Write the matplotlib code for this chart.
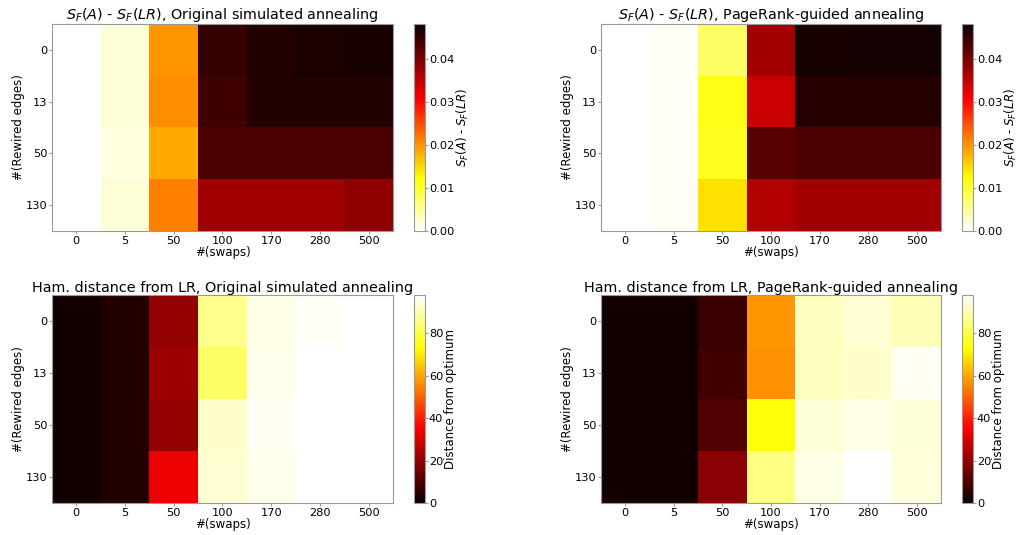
import numpy as np
import matplotlib.pyplot as plt

swaps = ['0', '5', '50', '100', '170', '280', '500']
rewired = ['0', '13', '50', '130']

# S_F(A) - S_F(LR)
sf_orig = [
    [0.0, 0.0020, 0.0197, 0.0449, 0.0463, 0.0467, 0.0470],
    [0.0, 0.0020, 0.0204, 0.0442, 0.0463, 0.0463, 0.0463],
    [0.0, 0.0015, 0.0183, 0.0432, 0.0432, 0.0432, 0.0432],
    [0.0, 0.0020, 0.0213, 0.0373, 0.0373, 0.0373, 0.0384],
]
sf_pr = [
    [0.0, 0.0005, 0.0074, 0.0373, 0.0469, 0.0471, 0.0471],
    [0.0, 0.0005, 0.0112, 0.0343, 0.0460, 0.0460, 0.0460],
    [0.0, 0.0005, 0.0108, 0.0425, 0.0432, 0.0432, 0.0432],
    [0.0, 0.0005, 0.0144, 0.0360, 0.0370, 0.0370, 0.0370],
]

# Hamming distance from LR
ham_orig = [
    [1.4, 3.5, 20.0, 86.8, 95.5, 97.0, 98.0],
    [1.4, 3.5, 21.5, 83.0, 96.0, 98.0, 98.0],
    [1.4, 3.5, 20.0, 92.7, 96.5, 98.0, 98.0],
    [1.4, 3.5, 33.0, 93.5, 96.0, 98.0, 98.0],
]
ham_pr = [
    [1.4, 1.4, 7.0, 58.0, 91.7, 93.5, 91.0],
    [1.4, 1.4, 8.4, 57.0, 91.5, 92.7, 96.5],
    [1.4, 1.4, 10.5, 74.0, 94.0, 95.5, 94.0],
    [1.4, 1.4, 19.0, 85.8, 95.0, 98.0, 94.5],
]

plt.rcParams['font.size'] = 8.5
plt.rcParams['xtick.labelsize'] = 8.2
plt.rcParams['ytick.labelsize'] = 8.2

fig = plt.figure(figsize=(10.18, 5.35), dpi=100)
W, H = 1018, 535

def ax_at(x0, y0, x1, y1):
    return fig.add_axes([x0 / W, 1 - y1 / H, (x1 - x0) / W, (y1 - y0) / H])

panels = [
    (sf_orig, 'hot_r', 0, 0.048, r'$S_F(A)$ - $S_F(LR)$, Original simulated annealing',
     r'$S_F(A)$ - $S_F(LR)$', 3.75, (52, 24, 393, 231), (414, 24, 425, 231)),
    (sf_pr, 'hot_r', 0, 0.048, r'$S_F(A)$ - $S_F(LR)$, PageRank-guided annealing',
     r'$S_F(A)$ - $S_F(LR)$', 3.75, (601, 24, 941, 231), (962, 24, 973, 231)),
    (ham_orig, 'hot', 0, 98, 'Ham. distance from LR, Original simulated annealing',
     'Distance from optimum', 2.75, (52, 295, 393, 503), (414, 295, 425, 503)),
    (ham_pr, 'hot', 0, 98, 'Ham. distance from LR, PageRank-guided annealing',
     'Distance from optimum', 2.75, (601, 295, 941, 503), (962, 295, 973, 503)),
]

for data, cmap, vmin, vmax, title, clabel, cl_x, apos, cpos in panels:
    ax = ax_at(*apos)
    im = ax.imshow(np.array(data), cmap=cmap, vmin=vmin, vmax=vmax, aspect='auto')
    ax.set_xticks(range(len(swaps)))
    ax.set_xticklabels(swaps)
    ax.set_yticks(range(len(rewired)))
    ax.set_yticklabels(rewired)
    ax.set_xlabel('#(swaps)', labelpad=0)
    ax.set_ylabel('#(Rewired edges)')
    ax.yaxis.set_label_coords(-0.079, 0.5)
    ax.set_title(title, fontsize=10.4, pad=2)
    for s in ax.spines.values():
        s.set_color('#999999')
    ax.tick_params(color='#999999', length=2, pad=1.5)
    cax = ax_at(*cpos)
    cb = fig.colorbar(im, cax=cax)
    cb.set_label(clabel)
    cax.yaxis.set_label_coords(cl_x, 0.5)
    cb.outline.set_edgecolor('#999999')
    cax.tick_params(color='#999999', length=2, pad=0.8)

fig.savefig('out.png', dpi=100)
